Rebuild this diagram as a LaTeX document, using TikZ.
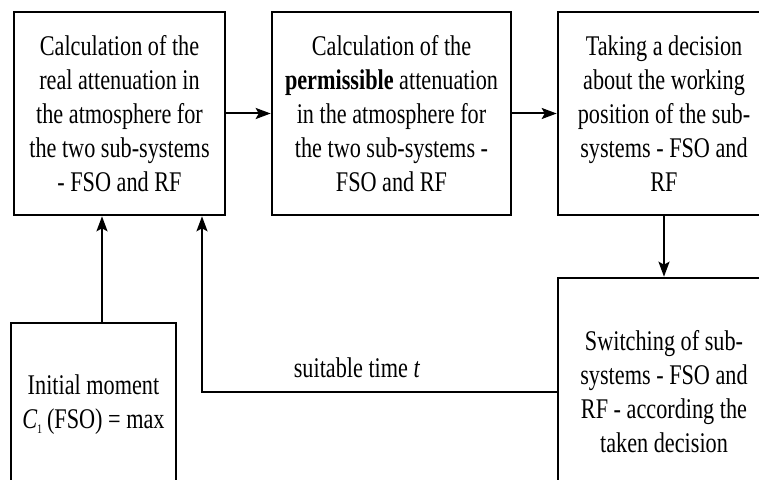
\documentclass[tikz,border=0pt]{standalone}
\usepackage{fontspec}
\setmainfont{Liberation Serif}[FakeStretch=0.78]
\usetikzlibrary{arrows.meta}
\begin{document}
\begin{tikzpicture}[x=1pt,y=1pt,
  box/.style={draw=black, line width=2.6pt, fill=white, align=center, inner sep=0pt,
    font=\fontsize{28.5}{34}\selectfont},
  arr/.style={line width=2pt, -{Stealth[length=15pt,width=11pt,inset=3pt]}},
  lbl/.style={font=\fontsize{28.5}{34}\selectfont, inner sep=0pt}]
\useasboundingbox (0,0) rectangle (759,479);
\clip (0,0) rectangle (759,479);
\fill[white] (0,0) rectangle (759,479);
\node[box, minimum width=211pt, minimum height=203pt] (b1) at (119.5,365.5)
  {Calculation of the\\real attenuation in\\the atmosphere for\\the two sub-systems\\- FSO and RF};
\node[box, minimum width=239pt, minimum height=203pt] (b2) at (391.5,365.5)
  {Calculation of the\\\textbf{permissible} attenuation\\in the atmosphere for\\the two sub-systems -\\FSO and RF};
\node[box, minimum width=212pt, minimum height=203pt] (b3) at (664,365.5)
  {Taking a decision\\about the working\\position of the sub-\\systems - FSO and\\RF};
\node[box, minimum width=212pt, minimum height=228pt] (b4) at (664,87)
  {Switching of sub-\\systems - FSO and\\RF - according the\\taken decision};
\node[box, minimum width=165pt, minimum height=164pt] (b5) at (93.5,74)
  {Initial moment\\{\itshape C}\raisebox{-0.35ex}{\fontsize{13}{13}\selectfont 1}\,(FSO) = max};
\node[lbl] (lab) at (357,111) {suitable time \textit{t}};
\draw[arr] (b1.east) -- (b2.west);
\draw[arr] (b2.east) -- (b3.west);
\draw[arr] (b3.south) -- (b4.north);
\draw[arr] ([xshift=8.5pt]b5.north) -- ([xshift=-17.5pt]b1.south);
\draw[arr] (b4.west) -| ([xshift=82.5pt]b1.south);
\end{tikzpicture}
\end{document}
